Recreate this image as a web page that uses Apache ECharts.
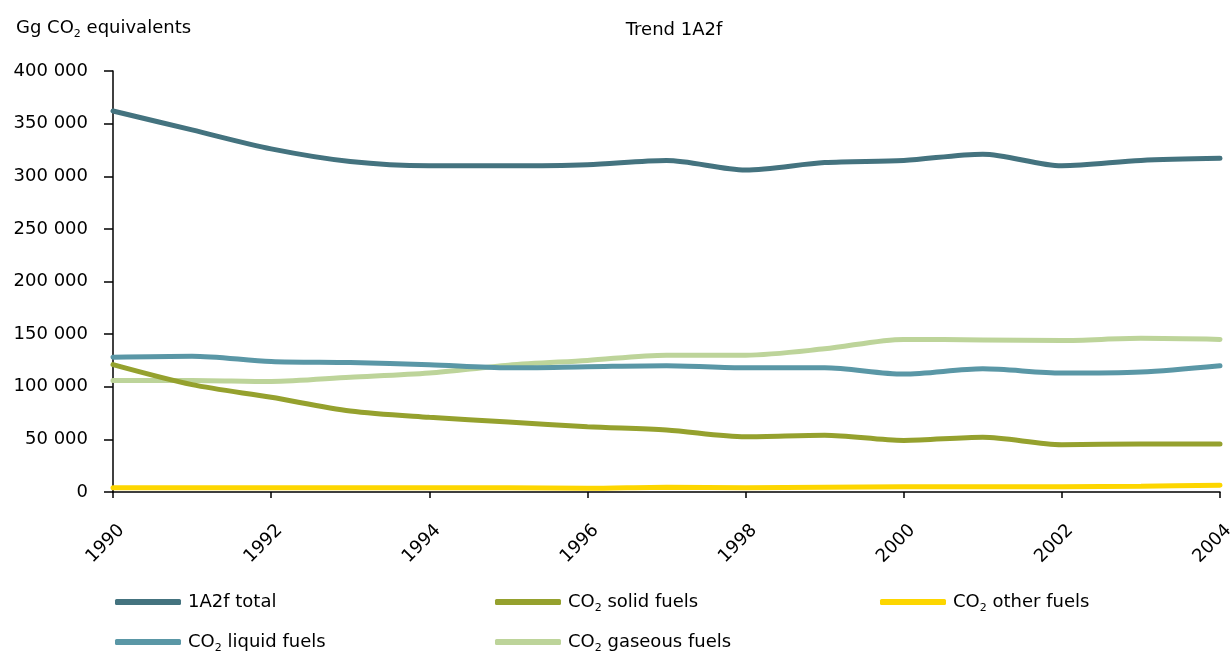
<!DOCTYPE html>
<html>
<head>
<meta charset="UTF-8">
<title>Trend 1A2f</title>
<script src="https://cdn.jsdelivr.net/npm/echarts@6/dist/echarts.min.js"></script>
<style>
  html, body { margin: 0; padding: 0; background: #fff; }
  #main { width: 1230px; height: 653px; }
</style>
</head>
<body>
<div id="main"></div>
<script>
var years = ['1990','1991','1992','1993','1994','1995','1996','1997','1998','1999','2000','2001','2002','2003','2004'];
var total   = [362000, 344000, 326000, 314000, 310000, 310000, 311000, 315000, 306000, 313000, 315000, 321000, 310000, 315000, 317000];
var liquid  = [128000, 129000, 124000, 123000, 121000, 118000, 119000, 120000, 118000, 118000, 112000, 117000, 113000, 114000, 120000];
var solid   = [121000, 102000, 90000, 77000, 71000, 66500, 62000, 59000, 52500, 54000, 49000, 52000, 45000, 45500, 45500];
var gaseous = [106000, 106000, 105000, 109000, 113000, 120500, 125000, 130000, 130000, 136000, 145000, 144500, 144000, 146000, 145000];
var other   = [4000, 4000, 4000, 4000, 4000, 4000, 3500, 4500, 4000, 4500, 5000, 5000, 5000, 5500, 6500];

var names = ['1A2f total', 'CO2 liquid fuels', 'CO2 solid fuels', 'CO2 gaseous fuels', 'CO2 other fuels'];
var colors = ['#44737f', '#5a97a6', '#95a12e', '#bdd49a', '#fdd600'];
var values = [total, liquid, solid, gaseous, other];
// legend spots: [left, top]
var legendPos = [[110, 588], [110, 628], [490, 588], [490, 628], [875, 588]];

var font = 'DejaVu Sans';
var rich = {
  a: { fontFamily: font, fontSize: 18, fontWeight: 'normal', color: '#000' },
  s: { fontFamily: font, fontSize: 11, fontWeight: 'normal', color: '#000', padding: [13, 0, 0, 0] }
};
function fmtName(name) {
  if (name.indexOf('CO2') === 0) return '{a|CO}{s|2}{a|' + name.slice(3) + '}';
  return '{a|' + name + '}';
}

var series = [];
var legends = [];
for (var i = 0; i < names.length; i++) {
  series.push({
    name: names[i],
    type: 'line',
    data: values[i],
    smooth: 0.3,
    symbol: 'none',
    z: 10 - i,
    lineStyle: { width: 5, color: colors[i], cap: 'round' },
    itemStyle: { color: colors[i] }
  });
  legends.push({
    left: legendPos[i][0], top: legendPos[i][1],
    data: [names[i]], icon: 'roundRect', itemWidth: 66, itemHeight: 6, itemGap: 0,
    formatter: fmtName,
    textStyle: { rich: rich, padding: [0, 0, 0, 2] }
  });
}

var chart = echarts.init(document.getElementById('main'));
chart.setOption({
  animation: false,
  color: colors,
  title: [
    { text: 'Trend 1A2f', left: 669, top: 16, textAlign: 'center',
      textStyle: { fontFamily: font, fontSize: 18, fontWeight: 'normal', color: '#000' } },
    { text: '{a|Gg CO}{s|2}{a| equivalents}', left: 11, top: 11,
      textStyle: { rich: rich, fontWeight: 'normal' } }
  ],
  legend: legends,
  grid: { left: 113, right: 10, top: 71, bottom: 161, containLabel: false, outerBoundsMode: 'none' },
  xAxis: {
    type: 'category', data: years, boundaryGap: false,
    axisLine: { lineStyle: { color: '#000', width: 1.5 } },
    axisTick: { interval: 1, length: 6, lineStyle: { color: '#000', width: 1.5 } },
    axisLabel: { interval: 1, rotate: 45, margin: 27,
      formatter: function (v) { return '{t|' + v + '}'; },
      rich: { t: { fontFamily: font, fontSize: 18, color: '#000', padding: [24, 0, 0, 0] } } }
  },
  yAxis: {
    type: 'value', min: 0, max: 400000, interval: 50000,
    splitLine: { show: false },
    axisLine: { show: true, lineStyle: { color: '#000', width: 1.5 } },
    axisTick: { show: true, length: 9, lineStyle: { color: '#000', width: 1.5 } },
    axisLabel: {
      margin: 25, fontFamily: font, fontSize: 18, color: '#000',
      formatter: function (v) { return String(v).replace(/\B(?=(\d{3})+(?!\d))/g, ' '); }
    }
  },
  series: series
});
</script>
</body>
</html>
